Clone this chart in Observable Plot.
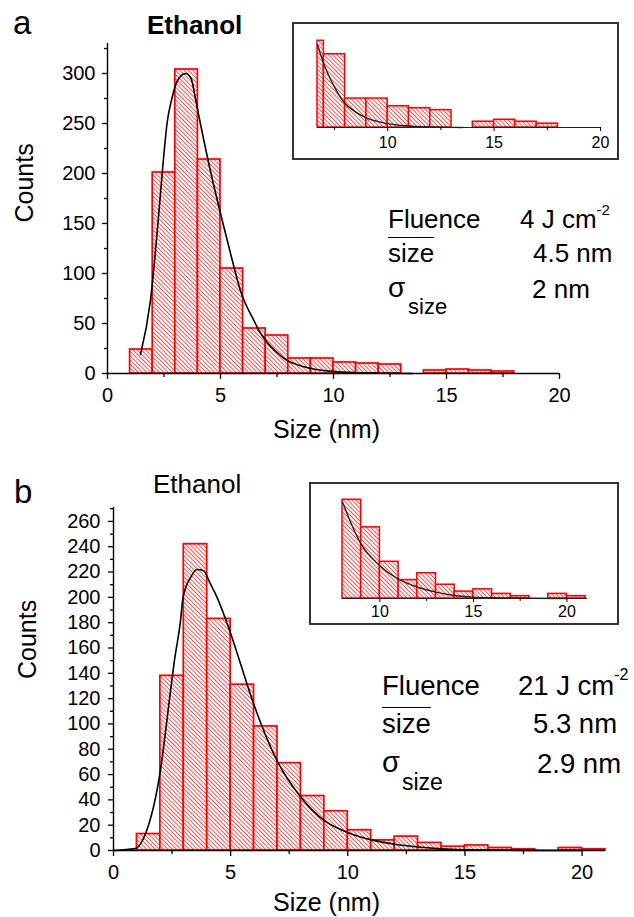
<!DOCTYPE html>
<html><head><meta charset="utf-8">
<script src="https://cdn.jsdelivr.net/npm/d3@7"></script>
<script src="https://cdn.jsdelivr.net/npm/@observablehq/plot@0.6"></script>
<style>
body{margin:0;background:#fff;}
#fig{position:relative;width:634px;height:917px;overflow:hidden;font-family:"Liberation Sans",Arial,sans-serif;color:#000;background:#fff}
.abs{position:absolute;white-space:nowrap}
#fig svg{position:absolute;overflow:visible}
.frame{position:absolute;border:2px solid #333;box-sizing:border-box}
</style></head><body>
<div id="fig"></div>
<script>
// ---------- data ----------
const binLeftA = [1,2,3,4,5,6,7,8,9,10,11,12,13,14,15,16,17];
const countsA  = [24,201,304,214,105,45,38,15,15,11,10,9,0,3,4,3,2];
const fitSizeA  = [1.46,1.9,2.27,2.42,2.64,2.86,3.1,3.45,3.7,3.89,4.11,4.58,5,5.5,5.88,6.5,6.7,7,7.5,7.95,8.5,9,10,11,12,13.5];
const fitCountA = [19,73,160,200,251,276,293,300,295,275,250,200,160,115,83,52,43,33,21,13,8,5,2,0.8,0.3,0];

const binLeftB = [1,2,3,4,5,6,7,8,9,10,11,12,13,14,15,16,17,18,19,20];
const countsB  = [13,138,242,183,131,98,69,43,31,16,8,11,6,3,4,2,1,0,2,1];
const fitSizeB  = [0,0.93,1.36,2.0,2.42,2.6,2.85,2.97,3.3,3.56,3.85,4.1,4.42,4.99,5.38,5.98,6.98,8,8.97,9.97,11.1,12,13,14,15,16,18,20];
const fitCountB = [0,1.5,13,63,124,150,180,200,216,222,221,212,200,172,150,116,71,42,24,14.5,8,5,2.8,1.3,0.6,0.3,0.1,0];

const xMajor = [0,5,10,15,20];
const xMinor = [2.5,7.5,12.5,17.5];
const yMajorA = [0,50,100,150,200,250,300];
const yMinorA = [25,75,125,175,225,275,325];
const yMajorB = [0,20,40,60,80,100,120,140,160,180,200,220,240,260];
const yMinorB = [10,30,50,70,90,110,130,150,170,190,210,230,250,270];
const insetMajor = [10,15,20];
const insetMinorA = [7.5,12.5,17.5];
const insetMinorB = [12.5,17.5];

const panelLetters = ["a","b"];
const panelTitles = ["Ethanol","Ethanol"];
const xTitle = "Size (nm)";
const yTitle = "Counts";
const fluenceLabel = "Fluence";
const fluenceValues = ["4 J cm","21 J cm"];
const fluenceExp = "-2";
const meanLabel = "size";
const meanValues = ["4.5 nm","5.3 nm"];
const sigmaSymbol = "σ";
const sigmaValues = ["2 nm","2.9 nm"];

// ---------- helpers ----------
const fig = document.getElementById("fig");
const FONT = '"Liberation Sans", Arial, sans-serif';
const mkBars = (lefts, counts) => lefts.map((b,i)=>({x1:b, x2:b+1, y:counts[i]})).filter(d=>d.y>0);
const mkFit = (xs, ys) => xs.map((x,i)=>({x, y:ys[i]}));

function place(el, left, top){ el.style.left = left+"px"; el.style.top = top+"px"; fig.appendChild(el); }
function addText(html, x, baseline, size, weight){
  const d = document.createElement("div");
  d.className = "abs";
  d.style.fontSize = size+"px";
  d.style.lineHeight = size+"px";
  if (weight) d.style.fontWeight = weight;
  d.innerHTML = html;
  place(d, x, baseline - 0.8465*size);
}
function addHatch(svg, id){
  const ns = "http://www.w3.org/2000/svg";
  const defs = document.createElementNS(ns, "defs");
  const pat = document.createElementNS(ns, "pattern");
  pat.setAttribute("id", id);
  pat.setAttribute("patternUnits", "userSpaceOnUse");
  pat.setAttribute("width", "3");
  pat.setAttribute("height", "3");
  pat.setAttribute("patternTransform", "rotate(45)");
  const bg = document.createElementNS(ns, "rect");
  bg.setAttribute("width", "3"); bg.setAttribute("height", "3"); bg.setAttribute("fill", "#ffffff");
  const line = document.createElementNS(ns, "rect");
  line.setAttribute("x", "0"); line.setAttribute("y", "0");
  line.setAttribute("width", "3"); line.setAttribute("height", "0.9");
  line.setAttribute("fill", "#ff3c3c");
  pat.appendChild(bg);
  pat.appendChild(line);
  defs.appendChild(pat);
  svg.insertBefore(defs, svg.firstChild);
  return svg;
}

function mainPanel(o){
  const bars = mkBars(o.lefts, o.counts);
  const fit = mkFit(o.fx, o.fy);
  const svg = Plot.plot({
    width:o.w, height:o.h,
    marginLeft:o.mL, marginRight:o.mR, marginTop:o.mT, marginBottom:o.mB,
    x:{domain:o.xDomain}, y:{domain:o.yDomain},
    style:{fontFamily:FONT, fontSize:o.tickFont+"px", color:"black", background:"transparent"},
    marks:[
      Plot.rect(bars, {x1:"x1", x2:"x2", y1:()=>0, y2:"y", fill:`url(#${o.hid})`, stroke:"#ff0000", strokeWidth:1.7}),
      Plot.line(fit, {x:"x", y:"y", stroke:"black", strokeWidth:1.6, curve:"monotone-x"}),
      Plot.ruleY([0], {stroke:"black", strokeWidth:1.4}),
      Plot.ruleX([0], {stroke:"black", strokeWidth:1.4}),
      Plot.axisX({ticks:xMajor, tickSize:6, tickPadding:8, label:null, strokeWidth:1.3}),
      Plot.axisX({ticks:xMinor, tickSize:4, tickFormat:()=>"", label:null, strokeWidth:1.3}),
      Plot.axisY({ticks:o.yMajor, tickSize:5, tickPadding:o.yPad, label:null, strokeWidth:1.3}),
      Plot.axisY({ticks:o.yMinor, tickSize:3, tickFormat:()=>"", label:null, strokeWidth:1.3}),
      Plot.text([xTitle], {frameAnchor:"bottom", dy:o.xtDy, dx:o.xtDx, lineAnchor:"bottom", fontSize:o.titleFont}),
      Plot.text([yTitle], {frameAnchor:"left", dx:o.ytDx, dy:o.ytDy, rotate:-90, fontSize:o.titleFont})
    ]
  });
  return addHatch(svg, o.hid);
}

function insetPanel(o){
  const lo = o.xDomain[0];
  const bars = mkBars(o.lefts, o.counts).filter(d=>d.x2>lo);
  const fit = mkFit(o.fx, o.fy).filter(d=>d.x>=lo-1e-9);
  const svg = Plot.plot({
    width:o.w, height:o.h,
    marginLeft:o.mL, marginRight:o.mR, marginTop:o.mT, marginBottom:o.mB,
    x:{domain:o.xDomain, clamp:true}, y:{domain:[0,o.yMax], axis:null},
    style:{fontFamily:FONT, fontSize:"16px", color:"black", background:"transparent"},
    marks:[
      Plot.rect(bars, {x1:"x1", x2:"x2", y1:()=>0, y2:"y", fill:`url(#${o.hid})`, stroke:"#ff0000", strokeWidth:1.5}),
      Plot.line(fit, {x:"x", y:"y", stroke:"#222", strokeWidth:1.4, curve:"monotone-x"}),
      Plot.ruleY([0], {stroke:"#222", strokeWidth:1.2}),
      Plot.axisX({ticks:insetMajor, tickSize:4, tickPadding:o.pad, label:null}),
      Plot.axisX({ticks:o.minor, tickSize:3, tickFormat:()=>"", label:null})
    ]
  });
  return addHatch(svg, o.hid);
}

// ---------- panel a ----------
const svgA = mainPanel({lefts:binLeftA, counts:countsA, fx:fitSizeA, fy:fitCountA, hid:"hatchA",
  w:634, h:460, mL:107, mR:75, mT:43, mB:87, xDomain:[0,20], yDomain:[0,330],
  yMajor:yMajorA, yMinor:yMinorA, yPad:7, tickFont:20, titleFont:25, xtDy:64, xtDx:-7, ytDx:-83, ytDy:14});
place(svgA, 0, 0);

const frameA = document.createElement("div"); frameA.className="frame";
frameA.style.width="327px"; frameA.style.height="138px"; place(frameA, 292, 22);
const insA = insetPanel({lefts:binLeftA, counts:countsA, fx:fitSizeA, fy:fitCountA, hid:"hatchAi",
  w:326, h:137, mL:24, mR:19, mT:10, mB:33, xDomain:[6.7,20], yMax:48.8, minor:insetMinorA, pad:5});
place(insA, 293, 23);

// ---------- panel b ----------
const svgB = mainPanel({lefts:binLeftB, counts:countsB, fx:fitSizeB, fy:fitCountB, hid:"hatchB",
  w:634, h:457, mL:113, mR:29, mT:47, mB:67, xDomain:[0,21], yDomain:[0,271],
  yMajor:yMajorB, yMinor:yMinorB, yPad:8, tickFont:20, titleFont:25, xtDy:60, xtDx:-33, ytDx:-86, ytDy:0});
place(svgB, 0, 460);

const frameB = document.createElement("div"); frameB.className="frame";
frameB.style.width="310px"; frameB.style.height="143px"; place(frameB, 309, 482);
const insB = insetPanel({lefts:binLeftB, counts:countsB, fx:fitSizeB, fy:fitCountB, hid:"hatchBi",
  w:309, h:142, mL:32, mR:32, mT:10, mB:27, xDomain:[8,21.1], yMax:45.75, minor:insetMinorB, pad:3});
place(insB, 310, 483);

// ---------- text ----------
addText(panelLetters[0], 13, 34, 33);
addText(panelTitles[0], 147, 34, 26, "bold");
addText(panelLetters[1], 14, 503, 33);
addText(panelTitles[1], 153, 493, 26);

const sup = (t, raise, size) => `<span style="position:relative;top:-${raise}px;font-size:${size}px">${t}</span>`;
const over = t => `<span style="text-decoration:overline;text-decoration-thickness:1px">${t}</span>`;

// panel a annotations
addText(fluenceLabel, 388, 228, 26);
addText(fluenceValues[0] + sup(fluenceExp, 13, 15), 520, 228, 26);
addText(over(meanLabel), 388, 262, 26);
addText(meanValues[0], 533, 262, 26);
addText(sigmaSymbol, 388, 298, 28);
addText(meanLabel, 408, 315, 22);
addText(sigmaValues[0], 532, 298, 26);

// panel b annotations
addText(fluenceLabel, 382, 695, 27.5);
addText(fluenceValues[1] + sup(fluenceExp, 15, 16), 518, 695, 27.5);
addText(over(meanLabel), 382, 733, 27.5);
addText(meanValues[1], 533, 733, 27.5);
addText(sigmaSymbol, 382, 773, 29);
addText(meanLabel, 402, 790, 23);
addText(sigmaValues[1], 537, 773, 27.5);
</script></body></html>
